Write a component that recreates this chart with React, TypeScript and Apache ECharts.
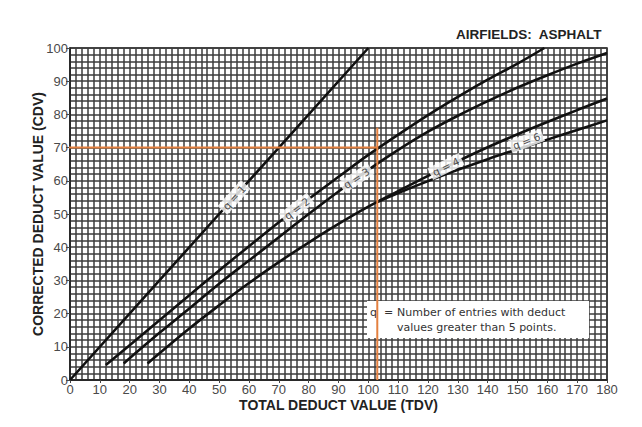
import React, { useEffect, useRef } from "react";
import * as echarts from "echarts";

// Curves: [TDV, CDV]
const q1: [number, number][] = [[0, 0], [50, 50], [100, 100]];
const q2: [number, number][] = [[12, 4.5], [20, 10.5], [30, 18], [40, 25.5], [50, 33], [60, 40.3], [70, 47.5], [80, 54.5], [90, 61.2], [100, 67.8], [110, 73.9], [120, 79.8], [130, 85.3], [140, 90.5], [150, 95.3], [159, 100]];
const q3: [number, number][] = [[18, 5], [30, 14.2], [40, 21.5], [50, 29], [60, 36], [70, 43], [80, 50], [90, 56.8], [100, 63.3], [110, 69.3], [120, 74.8], [130, 79.6], [140, 84], [150, 88.1], [160, 91.8], [170, 95.3], [180, 98.5]];
const q4: [number, number][] = [[26, 5], [40, 15.5], [50, 22.5], [60, 29.2], [70, 35.5], [80, 41.4], [90, 47], [100, 52.2], [110, 56.9], [120, 61.5], [130, 65.9], [140, 70.1], [150, 74], [160, 77.7], [170, 81.3], [180, 84.8]];
const q6: [number, number][] = [[103, 53.6], [110, 56.3], [120, 59.9], [130, 63.3], [140, 66.5], [150, 69.5], [160, 72.4], [170, 75.3], [180, 78.2]];

// Example reading (orange)
const exampleH: [number, number][] = [[-1.5, 70], [103, 70]];
const exampleV: [number, number][] = [[103, 0], [103, 76]];

// Curve labels
const labelNames = ["q = 1", "q = 2", "q = 3", "q = 4", "q = 6"];
const labelPoints: [number, number][] = [[55, 55], [76, 51.7], [96, 60.8], [126, 64.3], [153, 72]];
const labelAngles = [48, 37, 33, 26, 21];

const titleText = "AIRFIELDS:  ASPHALT";
const xTitle = "TOTAL DEDUCT VALUE (TDV)";
const yTitle = "CORRECTED DEDUCT VALUE (CDV)";
const noteLines = ["Number of entries with deduct", "values greater than 5 points."];

export default function App() {
  const ref = useRef<HTMLDivElement>(null);
  useEffect(() => {
    if (!ref.current) return;
    const chart = echarts.init(ref.current, null, { renderer: "svg" });
    const gridLine = { color: "#3c3c3c", width: 1.5 };
    const tickFont = { fontFamily: "'Liberation Sans', Arial, sans-serif", fontSize: 13, color: "#4a4a4a" };
    const curve = (data: [number, number][], name: string) => ({
      type: "line",
      name,
      data,
      smooth: 0.35,
      showSymbol: false,
      symbol: "none",
      lineStyle: { color: "#111", width: 2.6 },
      z: 3,
    });
    chart.setOption({
      animation: false,
      backgroundColor: "#fff",
      grid: { left: 70, right: 35, top: 48, bottom: 47, show: true, borderColor: "#222", borderWidth: 1.5, backgroundColor: "#fff" },
      title: {
        text: titleText,
        right: 35,
        top: 22,
        textStyle: { fontFamily: "'Liberation Sans', Arial, sans-serif", fontSize: 13.5, fontWeight: "bold", color: "#222" },
      },
      xAxis: {
        type: "value",
        min: 0,
        max: 180,
        interval: 10,
        name: xTitle,
        nameLocation: "middle",
        nameGap: 18,
        nameMoveOverlap: false,
        nameTextStyle: { fontFamily: "'Liberation Sans', Arial, sans-serif", fontSize: 14, fontWeight: "bold", color: "#222" },
        axisLine: { show: true, lineStyle: { color: "#222", width: 1.5 } },
        axisTick: { show: true, length: 3, lineStyle: { color: "#444" } },
        axisLabel: { ...tickFont, margin: 3 },
        splitLine: { show: true, lineStyle: gridLine },
        minorTick: { show: false, splitNumber: 5 },
        minorSplitLine: { show: true, lineStyle: gridLine },
      },
      yAxis: {
        type: "value",
        min: 0,
        max: 100,
        interval: 10,
        name: yTitle,
        nameLocation: "middle",
        nameGap: 25,
        nameMoveOverlap: false,
        nameTextStyle: { fontFamily: "'Liberation Sans', Arial, sans-serif", fontSize: 14, fontWeight: "bold", color: "#222" },
        axisLine: { show: true, lineStyle: { color: "#222", width: 1.5 } },
        axisTick: { show: true, length: 4, lineStyle: { color: "#444" } },
        axisLabel: { ...tickFont, margin: 2 },
        splitLine: { show: true, lineStyle: gridLine },
        minorTick: { show: false, splitNumber: 5 },
        minorSplitLine: { show: true, lineStyle: gridLine },
      },
      graphic: [
        {
          type: "rect",
          shape: { x: 367, y: 301, width: 222, height: 37 },
          style: { fill: "#fff" },
          z: 1,
        },
        {
          type: "text",
          x: 370,
          y: 312,
          style: { text: "q", fontFamily: "'DejaVu Sans', Verdana, sans-serif", fontSize: 11, fill: "#333", verticalAlign: "middle" },
          z: 1,
        },
        {
          type: "text",
          x: 384,
          y: 312,
          style: { text: "=", fontFamily: "'DejaVu Sans', Verdana, sans-serif", fontSize: 11, fill: "#333", verticalAlign: "middle" },
          z: 1,
        },
        {
          type: "text",
          x: 397,
          y: 312,
          style: { text: noteLines[0], fontFamily: "'DejaVu Sans', Verdana, sans-serif", fontSize: 11, fill: "#333", verticalAlign: "middle" },
          z: 1,
        },
        {
          type: "text",
          x: 397,
          y: 327,
          style: { text: noteLines[1], fontFamily: "'DejaVu Sans', Verdana, sans-serif", fontSize: 11, fill: "#333", verticalAlign: "middle" },
          z: 1,
        },
      ],
      series: [
        curve(q1, "q1"),
        curve(q2, "q2"),
        curve(q3, "q3"),
        curve(q4, "q4"),
        curve(q6, "q6"),
        {
          type: "line",
          data: exampleH,
          showSymbol: false,
          symbol: "none",
          lineStyle: { color: "#E4803F", width: 2 },
          z: 4,
        },
        {
          type: "line",
          data: exampleV,
          showSymbol: false,
          symbol: "none",
          lineStyle: { color: "#E4803F", width: 2 },
          z: 4,
        },
        {
          type: "scatter",
          symbolSize: 1,
          itemStyle: { color: "rgba(0,0,0,0)" },
          z: 5,
          data: labelPoints.map((p, i) => ({
            value: p,
            name: labelNames[i],
            label: { rotate: labelAngles[i] },
          })),
          label: {
            show: true,
            position: "inside",
            formatter: (p: any) => p.name,
            fontFamily: "'DejaVu Sans', Verdana, sans-serif",
            fontSize: 10.5,
            color: "#222",
            backgroundColor: "#fff",
            padding: [1, 3],
          },
        },
      ],
    });
    return () => chart.dispose();
  }, []);
  return <div ref={ref} style={{ position: "fixed", left: 0, top: 0, width: 642, height: 427 }} />;
}
